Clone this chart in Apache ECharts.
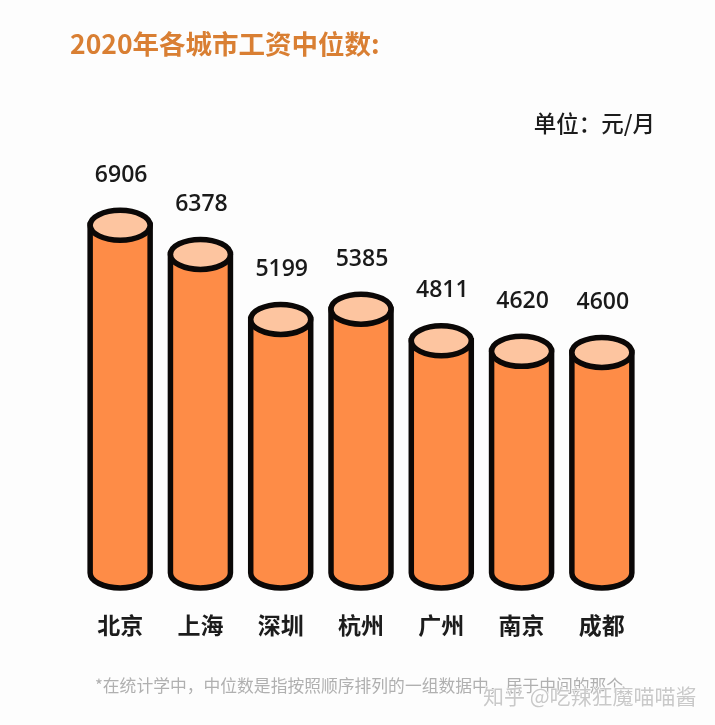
<!DOCTYPE html>
<html>
<head>
<meta charset="utf-8">
<style>
  html, body { margin: 0; padding: 0; background: #fdfdfd; }
  #chart { width: 715px; height: 725px; }
</style>
<script src="https://cdn.jsdelivr.net/npm/echarts@6/dist/echarts.min.js"></script>
</head>
<body>
<div id="chart"></div>
<script>
// 2020 median salary by city
var cities = ['北京', '上海', '深圳', '杭州', '广州', '南京', '成都'];
var medians = [6906, 6378, 5199, 5385, 4811, 4620, 4600];

var titleText = '2020年各城市工资中位数:';
var unitText = '单位：元/月';
var noteText = '*在统计学中，中位数是指按照顺序排列的一组数据中，居于中间的那个';
var markText = '知乎 @吃辣狂魔喵喵酱';

var cjk = '"Noto Sans CJK SC", "Noto Sans", sans-serif';
var lineColor = '#0b0807';

var chart = echarts.init(document.getElementById('chart'));

// one cylinder: body with rounded foot, then the lid and the value above it
function drawCylinder(params, api) {
  var top = api.coord([api.value(0), api.value(1)]);
  var foot = api.coord([api.value(0), 600]);
  var x = top[0], y = top[1];
  var rx = 30, ry = 15;
  var body = 'M' + (x - rx) + ' ' + y +
    ' L' + (x - rx) + ' ' + foot[1] +
    ' A' + rx + ' ' + ry + ' 0 0 0 ' + (x + rx) + ' ' + foot[1] +
    ' L' + (x + rx) + ' ' + y + ' Z';
  return {
    type: 'group',
    children: [
      {
        type: 'path',
        shape: { pathData: body },
        style: { fill: '#fe8c47', stroke: lineColor, lineWidth: 5.5 }
      },
      {
        type: 'ellipse',
        shape: { cx: x, cy: y, rx: rx, ry: ry },
        style: { fill: '#fdc5a0', stroke: lineColor, lineWidth: 5.5 }
      },
      {
        type: 'text',
        style: {
          x: x + 1,
          y: y - 50,
          text: String(api.value(1)),
          fill: '#1a1a1a',
          font: '600 23px "Open Sans", ' + cjk,
          align: 'center',
          verticalAlign: 'middle'
        }
      }
    ]
  };
}

chart.setOption({
  backgroundColor: '#fdfdfd',
  animation: false,
  grid: { left: 80, right: 73, top: 165, bottom: 119 },
  xAxis: {
    type: 'category',
    data: cities,
    axisLine: { show: false },
    axisTick: { show: false },
    axisLabel: {
      margin: 8,
      color: '#1c1c1c',
      fontSize: 23,
      fontWeight: 'bold',
      fontFamily: cjk,
      interval: 0
    }
  },
  yAxis: { type: 'value', min: 0, max: 8000, show: false },
  series: [{
    type: 'custom',
    renderItem: drawCylinder,
    encode: { x: 0, y: 1 },
    clip: false,
    data: cities.map(function (c, i) { return [i, medians[i]]; })
  }],
  graphic: [
    {
      type: 'text', left: 70, top: 31,
      style: { text: titleText, fill: '#d97f33', font: 'bold 26.5px ' + cjk }
    },
    {
      type: 'text', right: 60, top: 112,
      style: { text: unitText, fill: '#1c1c1c', font: '500 22.5px ' + cjk }
    },
    {
      type: 'text', left: 95, top: 677,
      style: { text: noteText, fill: '#b0b0b0', font: '16.8px ' + cjk }
    },
    {
      type: 'text', right: 18, top: 685,
      style: { text: markText, fill: '#c9c9c9', stroke: '#ffffff', lineWidth: 1, font: '21px ' + cjk }
    }
  ]
});
</script>
</body>
</html>
